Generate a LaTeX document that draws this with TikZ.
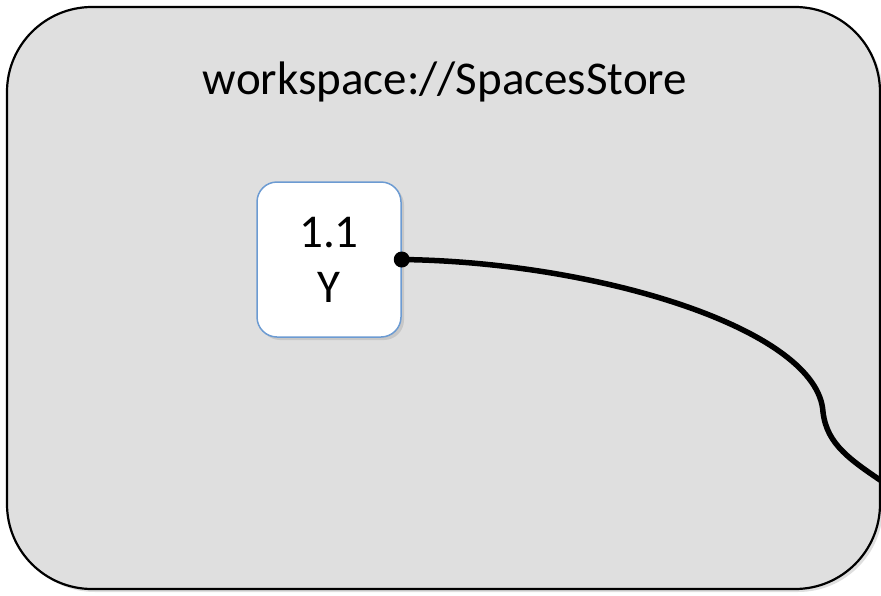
\documentclass[tikz,border=0pt]{standalone}
\usepackage{fontspec}
\setmainfont{Carlito}
\usetikzlibrary{shadows}
\definecolor{storegrey}{RGB}{223,223,223}
\definecolor{nodeblue}{RGB}{108,155,210}
\def\bigfont{\fontsize{47}{55}\selectfont}
\tikzset{
  store/.style={draw=black,line width=2.2pt,fill=storegrey,rounded corners=85pt,
    drop shadow={shadow xshift=3pt,shadow yshift=-3pt,opacity=0.25}},
  version/.style={draw=nodeblue,line width=1.5pt,fill=white,rounded corners=20pt,
    minimum width=144pt,minimum height=155pt,align=center,font=\bigfont,
    drop shadow={shadow xshift=3pt,shadow yshift=-3pt,opacity=0.25}},
  link/.style={line width=5.5pt}
}

\begin{document}
\begin{tikzpicture}[x=1pt,y=-1pt]
    \useasboundingbox (0,0) rectangle (881,595);
    \draw[store] (7,7) rectangle (880,589);
    \node[font=\bigfont,anchor=base] (title) at (445,94) {workspace://SpacesStore};
    \node[version] (v11) at (329,259.5) {1.1\\Y};
    \coordinate (bend) at (823,412);
    \coordinate (exit) at (892,488);
    \draw[link] (v11.east) .. controls (600,262) and (818,330) .. (bend)
                           .. controls (827,445) and (850,460) .. (exit);
    \fill (v11.east) circle (8pt);
\end{tikzpicture}
\end{document}
